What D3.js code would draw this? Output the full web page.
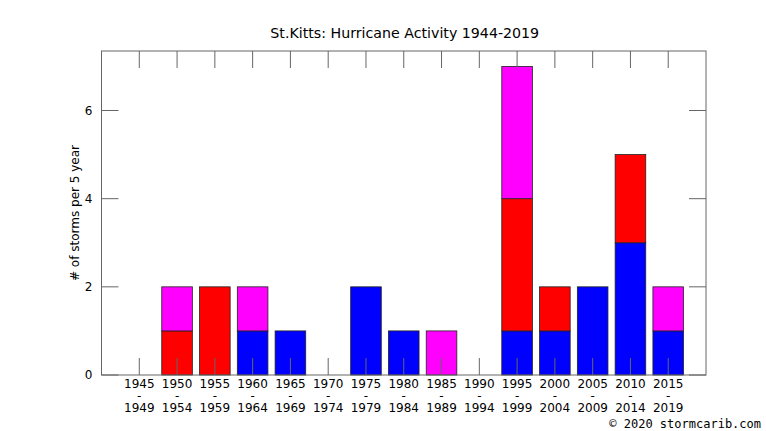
<!DOCTYPE html>
<html>
<head>
<meta charset="utf-8">
<script src="https://cdn.jsdelivr.net/npm/d3@7"></script>
<style>
  body { margin: 0; background: #fff; }
  svg { display: block; font-family: "DejaVu Sans", sans-serif; }
</style>
</head>
<body>
<div id="chart"></div>
<script>
// start year of each 5 year period
const periodStart = [1945, 1950, 1955, 1960, 1965, 1970, 1975, 1980, 1985, 1990, 1995, 2000, 2005, 2010, 2015];
const periodEnd   = [1949, 1954, 1959, 1964, 1969, 1974, 1979, 1984, 1989, 1994, 1999, 2004, 2009, 2014, 2019];

// stacked counts, bottom to top
const blueCounts    = [0, 0, 0, 1, 1, 0, 2, 1, 0, 0, 1, 1, 2, 3, 1];
const redCounts     = [0, 1, 2, 0, 0, 0, 0, 0, 0, 0, 3, 1, 0, 2, 0];
const magentaCounts = [0, 1, 0, 1, 0, 0, 0, 0, 1, 0, 3, 0, 0, 0, 1];

const seriesKeys = ["blue", "red", "magenta"];
const seriesColors = ["#0000ff", "#ff0000", "#ff00ff"];
const yTicks = [0, 2, 4, 6];

const width = 766;
const height = 431;
const margin = {top: 51, right: 60, bottom: 56, left: 101.5};
const innerWidth = width - margin.left - margin.right;
const innerHeight = height - margin.top - margin.bottom;

const rows = periodStart.map((p, i) => ({
    idx: i,
    blue: blueCounts[i],
    red: redCounts[i],
    magenta: magentaCounts[i]
}));

const stacked = d3.stack().keys(seriesKeys)(rows);

const svg = d3.select("#chart")
    .append("svg")
    .attr("width", width)
    .attr("height", height);

//index scale, one empty slot on each side
const xScale = d3.scaleLinear()
    .domain([-1, periodStart.length])
    .range([0, innerWidth]);

const yScale = d3.scaleLinear()
    .domain([0, 7.35])
    .range([innerHeight, 0]);

const barW = (xScale(1) - xScale(0)) * 0.81;

svg.append("text")
    .text("St.Kitts: Hurricane Activity 1944-2019")
    .attr("x", margin.left + innerWidth / 2 + 1)
    .attr("y", 38)
    .attr("text-anchor", "middle")
    .style("font-size", "14.2px");

const inner = svg.append("g")
    .attr("transform", `translate(${margin.left}, ${margin.top})`);

//bars
inner.selectAll("g.layer")
    .data(stacked)
    .join("g")
        .attr("class", "layer")
        .attr("fill", (d, i) => seriesColors[i])
    .selectAll("rect")
    .data(d => d.filter(v => v[1] - v[0] > 0))
    .join("rect")
        .attr("x", d => xScale(d.data.idx) - barW / 2)
        .attr("width", barW)
        .attr("y", d => yScale(d[1]))
        .attr("height", d => yScale(d[0]) - yScale(d[1]))
        .attr("stroke", "#222")
        .attr("stroke-width", 0.8);

//inward ticks, bottom and top
const tickLen = 17;
const tickColor = "#666";
inner.selectAll("line.xtick-b")
    .data(periodStart)
    .join("line")
        .attr("class", "xtick-b")
        .attr("x1", (d, i) => xScale(i))
        .attr("x2", (d, i) => xScale(i))
        .attr("y1", innerHeight)
        .attr("y2", innerHeight - tickLen)
        .attr("stroke", tickColor);

inner.selectAll("line.xtick-t")
    .data(periodStart)
    .join("line")
        .attr("class", "xtick-t")
        .attr("x1", (d, i) => xScale(i))
        .attr("x2", (d, i) => xScale(i))
        .attr("y1", 0)
        .attr("y2", tickLen)
        .attr("stroke", tickColor);

inner.selectAll("line.ytick-l")
    .data(yTicks)
    .join("line")
        .attr("class", "ytick-l")
        .attr("x1", 0)
        .attr("x2", tickLen)
        .attr("y1", d => yScale(d))
        .attr("y2", d => yScale(d))
        .attr("stroke", tickColor);

inner.selectAll("line.ytick-r")
    .data(yTicks)
    .join("line")
        .attr("class", "ytick-r")
        .attr("x1", innerWidth)
        .attr("x2", innerWidth - tickLen)
        .attr("y1", d => yScale(d))
        .attr("y2", d => yScale(d))
        .attr("stroke", tickColor);

//frame
inner.append("rect")
    .attr("width", innerWidth)
    .attr("height", innerHeight)
    .attr("fill", "none")
    .attr("stroke", tickColor)
    .attr("stroke-width", 1);

//y labels
inner.selectAll("text.ylab")
    .data(yTicks)
    .join("text")
        .attr("class", "ylab")
        .attr("x", -9)
        .attr("y", d => yScale(d))
        .attr("dy", "0.35em")
        .attr("text-anchor", "end")
        .style("font-size", "12px")
        .text(d => d);

//x labels: start year, dash, end year as separate texts
const xLabels = inner.append("g").attr("class", "xlabels")
    .attr("text-anchor", "middle")
    .style("font-size", "12px");

xLabels.selectAll("text.start")
    .data(periodStart)
    .join("text")
        .attr("class", "start")
        .attr("x", (d, i) => xScale(i))
        .attr("y", innerHeight + 13)
        .text(d => d);

xLabels.selectAll("text.dash")
    .data(periodStart)
    .join("text")
        .attr("class", "dash")
        .attr("x", (d, i) => xScale(i))
        .attr("y", innerHeight + 25)
        .text("-");

xLabels.selectAll("text.end")
    .data(periodEnd)
    .join("text")
        .attr("class", "end")
        .attr("x", (d, i) => xScale(i))
        .attr("y", innerHeight + 37)
        .text(d => d);

svg.append("text")
    .text("# of storms per 5 year")
    .attr("transform", `translate(79, ${margin.top + innerHeight / 2}) rotate(-90)`)
    .attr("text-anchor", "middle")
    .style("font-size", "12px");

svg.append("text")
    .text("© 2020 stormcarib.com")
    .attr("x", 761)
    .attr("y", 428)
    .attr("text-anchor", "end")
    .style("font-family", "'DejaVu Sans Mono', monospace")
    .style("font-size", "12px");
</script>
</body>
</html>
